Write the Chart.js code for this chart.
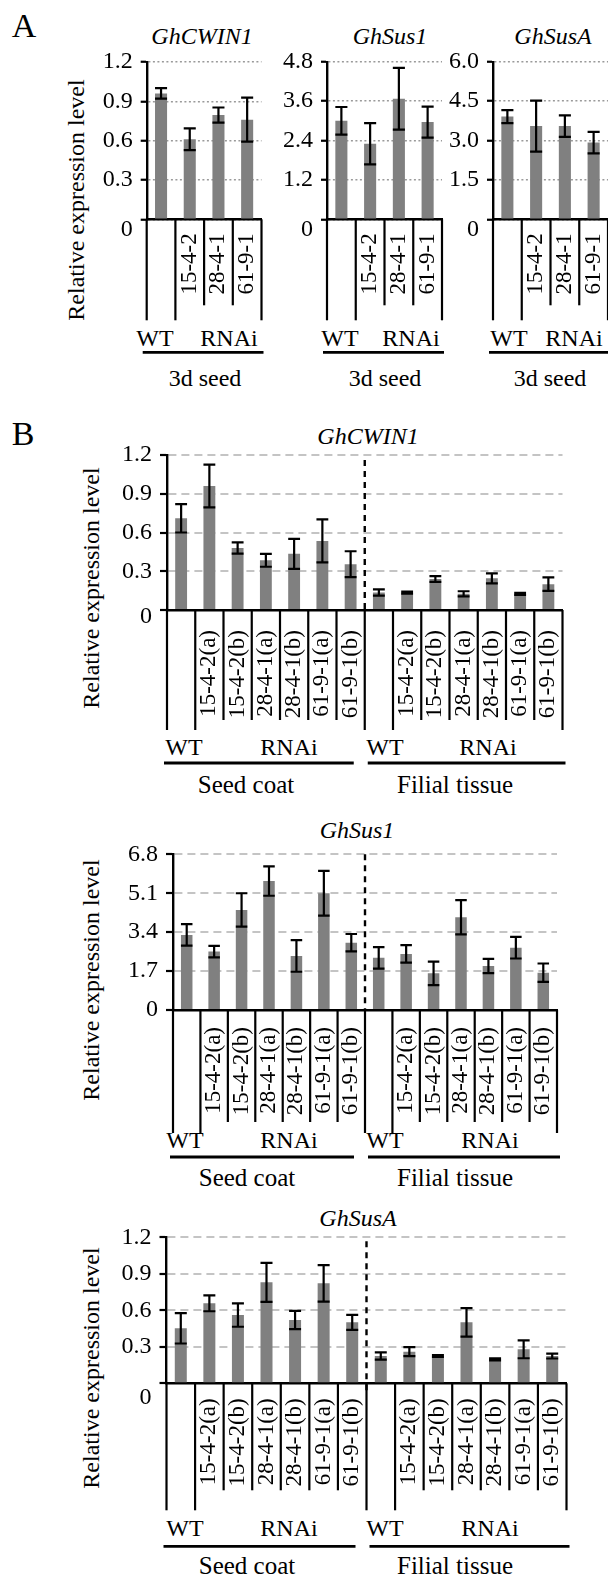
<!DOCTYPE html>
<html>
<head>
<meta charset="utf-8">
<script src="https://cdn.jsdelivr.net/npm/chart.js@4.4.1/dist/chart.umd.min.js"></script>
<style>
  body { margin: 0; width: 608px; height: 1576px; position: relative; background: #fff; overflow: hidden;
         font-family: 'Liberation Serif', 'DejaVu Serif', serif; color: #000; }
  canvas { position: absolute; left: 0; top: 0; }
  .t { position: absolute; white-space: nowrap; line-height: 1; font-size: 24px; transform: translate(-50%, -50%); }
  .it { font-style: italic; }
  .big { font-size: 34px; }
  .ty { transform: translate(-50%, -50%) rotate(-90deg); }
</style>
</head>
<body>
<div class="t big" style="left:24px;top:26px">A</div>
<div class="t big" style="left:23px;top:434px">B</div>

<!-- panel A -->
<div class="t ty" style="left:76px;top:200px">Relative expression level</div>
<div class="t it" style="left:202px;top:36px">GhCWIN1</div>
<div class="t it" style="left:390px;top:36px">GhSus1</div>
<div class="t it" style="left:553px;top:36px">GhSusA</div>
<div class="t" style="left:155px;top:338px">WT</div>
<div class="t" style="left:229px;top:338px">RNAi</div>
<div class="t" style="left:205px;top:378px">3d seed</div>
<div class="t" style="left:340px;top:338px">WT</div>
<div class="t" style="left:411px;top:338px">RNAi</div>
<div class="t" style="left:385px;top:378px">3d seed</div>
<div class="t" style="left:509px;top:338px">WT</div>
<div class="t" style="left:574px;top:338px">RNAi</div>
<div class="t" style="left:550px;top:378px">3d seed</div>

<!-- panel B, GhCWIN1 -->
<div class="t ty" style="left:91px;top:588px">Relative expression level</div>
<div class="t it" style="left:368px;top:436px">GhCWIN1</div>
<div class="t" style="left:184px;top:747px">WT</div>
<div class="t" style="left:289px;top:747px">RNAi</div>
<div class="t" style="left:385px;top:747px">WT</div>
<div class="t" style="left:488px;top:747px">RNAi</div>
<div class="t" style="left:246px;top:784px;font-size:25px">Seed coat</div>
<div class="t" style="left:455px;top:784px;font-size:25px">Filial tissue</div>

<!-- panel B, GhSus1 -->
<div class="t ty" style="left:91px;top:980px">Relative expression level</div>
<div class="t it" style="left:357px;top:830px">GhSus1</div>
<div class="t" style="left:185px;top:1140px">WT</div>
<div class="t" style="left:289px;top:1140px">RNAi</div>
<div class="t" style="left:385px;top:1140px">WT</div>
<div class="t" style="left:490px;top:1140px">RNAi</div>
<div class="t" style="left:247px;top:1177px;font-size:25px">Seed coat</div>
<div class="t" style="left:455px;top:1177px;font-size:25px">Filial tissue</div>

<!-- panel B, GhSusA -->
<div class="t ty" style="left:91px;top:1368px">Relative expression level</div>
<div class="t it" style="left:358px;top:1218px">GhSusA</div>
<div class="t" style="left:185px;top:1528px">WT</div>
<div class="t" style="left:289px;top:1528px">RNAi</div>
<div class="t" style="left:385px;top:1528px">WT</div>
<div class="t" style="left:490px;top:1528px">RNAi</div>
<div class="t" style="left:247px;top:1565px;font-size:25px">Seed coat</div>
<div class="t" style="left:455px;top:1565px;font-size:25px">Filial tissue</div>

<script>
// categories
const catsA = ['WT', '15-4-2', '28-4-1', '61-9-1'];
const catsB = ['WT', '15-4-2(a)', '15-4-2(b)', '28-4-1(a)', '28-4-1(b)', '61-9-1(a)', '61-9-1(b)',
               'WT', '15-4-2(a)', '15-4-2(b)', '28-4-1(a)', '28-4-1(b)', '61-9-1(a)', '61-9-1(b)'];

// panel A, 3d seed
const cwinA = [0.96, 0.61, 0.795, 0.76];
const cwinAErr = [0.04, 0.083, 0.058, 0.168];
const sus1A = [3.0, 2.3, 3.67, 2.96];
const sus1AErr = [0.42, 0.63, 0.94, 0.47];
const susAA = [3.91, 3.55, 3.55, 2.92];
const susAAErr = [0.25, 0.97, 0.41, 0.41];

// panel B, seed coat (7) + filial tissue (7)
const cwinB = [0.71, 0.96, 0.48, 0.385, 0.435, 0.535, 0.355, 0.135, 0.135, 0.24, 0.125, 0.245, 0.125, 0.2];
const cwinBErr = [0.11, 0.165, 0.043, 0.05, 0.116, 0.167, 0.1, 0.024, 0.008, 0.022, 0.02, 0.039, 0.008, 0.052];
const sus1B = [3.28, 2.55, 4.37, 5.63, 2.36, 5.1, 2.94, 2.28, 2.45, 1.6, 4.05, 1.92, 2.72, 1.63];
const sus1BErr = [0.47, 0.25, 0.73, 0.64, 0.69, 0.98, 0.38, 0.47, 0.38, 0.51, 0.75, 0.31, 0.47, 0.4];
const susAB = [0.452, 0.657, 0.561, 0.83, 0.52, 0.822, 0.501, 0.224, 0.26, 0.224, 0.501, 0.197, 0.279, 0.224];
const susABErr = [0.125, 0.065, 0.096, 0.16, 0.075, 0.15, 0.062, 0.03, 0.037, 0.008, 0.117, 0.008, 0.073, 0.02];

// y tick labels
const yTicksA1 = ['0', '0.3', '0.6', '0.9', '1.2'];
const yTicksA2 = ['0', '1.2', '2.4', '3.6', '4.8'];
const yTicksA3 = ['0', '1.5', '3.0', '4.5', '6.0'];
const yTicksB1 = ['0', '0.3', '0.6', '0.9', '1.2'];
const yTicksB2 = ['0', '1.7', '3.4', '5.1', '6.8'];
const yTicksB3 = ['0', '0.3', '0.6', '0.9', '1.2'];

const W = 608, H = 1576, YW = 60, XH = 150;
const serif = "'Liberation Serif', 'DejaVu Serif', serif";

// error bars, cell separators, group lines, dashed divider
const extras = {
  id: 'extras',
  afterDatasetsDraw(chart, args, o) {
    const ctx = chart.ctx, ys = chart.scales.y;
    const meta = chart.getDatasetMeta(0);
    ctx.save();
    ctx.strokeStyle = '#000';
    ctx.lineWidth = 2.2;
    o.errs.forEach((e, i) => {
      const bar = meta.data[i], v = o.vals[i];
      const cx = bar.x, hw = bar.width / 2;
      const y1 = ys.getPixelForValue(v + e), y2 = ys.getPixelForValue(v - e);
      ctx.beginPath();
      ctx.moveTo(cx, y1); ctx.lineTo(cx, y2);
      ctx.moveTo(cx - hw, y1); ctx.lineTo(cx + hw, y1);
      ctx.moveTo(cx - hw, y2); ctx.lineTo(cx + hw, y2);
      ctx.stroke();
    });
    ctx.restore();
  },
  afterDraw(chart, args, o) {
    const ctx = chart.ctx, xs = chart.scales.x, area = chart.chartArea;
    const n = o.vals.length;
    const cell = xs.getPixelForValue(1) - xs.getPixelForValue(0);
    const edge = k => xs.getPixelForValue(0) - cell / 2 + k * cell;
    const base = area.bottom;
    ctx.save();
    ctx.strokeStyle = '#000';
    ctx.lineWidth = 2.2;
    for (let k = 0; k <= n; k++) {
      const len = o.longIdx.includes(k) ? o.longLen : o.shortLen;
      ctx.beginPath();
      ctx.moveTo(edge(k), base);
      ctx.lineTo(edge(k), base + len);
      ctx.stroke();
    }
    ctx.lineWidth = 2.8;
    o.groups.forEach(g => {
      ctx.beginPath();
      ctx.moveTo(edge(g.a) + g.dl, base + o.groupY);
      ctx.lineTo(edge(g.b) + g.dr, base + o.groupY);
      ctx.stroke();
    });
    if (o.divider) {
      ctx.lineWidth = 2.4;
      ctx.setLineDash([6, 5]);
      ctx.beginPath();
      ctx.moveTo(edge(o.divider.k), area.top + o.divider.top);
      ctx.lineTo(edge(o.divider.k), base + o.divider.bottom);
      ctx.stroke();
    }
    ctx.restore();
  }
};

const styleA = { gridColor: '#9a9a9a', gridW: 1.5, dash: [2, 2.5], tickLen: 6 };
const styleB = { gridColor: '#c4c4c4', gridW: 2, dash: [8, 5], tickLen: 7 };

function drawChart(box, cats, vals, errs, yTicks, st, ex) {
  const cv = document.createElement('canvas');
  cv.width = W; cv.height = H;
  document.body.appendChild(cv);
  const nums = yTicks.map(Number);
  new Chart(cv, {
    type: 'bar',
    data: {
      labels: cats,
      datasets: [{ data: vals, backgroundColor: '#808080', barPercentage: 0.42, categoryPercentage: 1 }]
    },
    options: {
      responsive: false,
      animation: false,
      devicePixelRatio: 1,
      events: [],
      layout: { padding: { left: box.l - YW, right: W - box.r, top: box.t, bottom: H - box.b - XH } },
      plugins: {
        legend: { display: false },
        tooltip: { enabled: false },
        extras: Object.assign({ vals, errs }, ex)
      },
      scales: {
        x: {
          grid: { display: false, drawTicks: false },
          border: { color: '#000', width: 2.4 },
          ticks: {
            autoSkip: false, minRotation: 90, maxRotation: 90, padding: ex.pad,
            color: '#000', font: { family: serif, size: 23 },
            callback: (v, i) => cats[i] === 'WT' ? '' : cats[i]
          },
          afterFit: s => { s.height = XH; s.paddingLeft = 0; s.paddingRight = 0; }
        },
        y: {
          min: 0,
          max: nums[nums.length - 1],
          afterBuildTicks: s => { s.ticks = nums.map(v => ({ value: v })); },
          ticks: {
            autoSkip: false,
            // the "0" label sits a little below the axis line in the original
            callback: (v, i) => (i === 0 && ex.zeroDrop) ? ['', yTicks[i]] : yTicks[i],
            color: '#000',
            font: c => ({ family: serif, size: 24, lineHeight: (c.index === 0 && ex.zeroDrop) ? ex.zeroDrop * 2 + 'px' : 1.2 }),
            padding: 8
          },
          grid: { color: st.gridColor, lineWidth: st.gridW, tickColor: '#000', tickWidth: 2.2, tickLength: st.tickLen },
          border: { color: '#000', width: 2.4, dash: st.dash },
          afterFit: s => { s.width = YW; }
        }
      }
    },
    plugins: [extras]
  });
}

const exA = { pad: 14, zeroDrop: 10, longIdx: [0, 1, 4], longLen: 101, shortLen: 86, groupY: 133,
              groups: [{ a: 0, b: 4, dl: -4, dr: 2 }] };
const exB = (pad, zeroDrop, longLen, shortLen, groupY, divTop, divBottom) => ({
  pad, zeroDrop, longIdx: [0, 1, 7, 8, 14], longLen, shortLen, groupY,
  groups: [{ a: 0, b: 7, dl: -3, dr: -11 }, { a: 7, b: 14, dl: 3, dr: 3 }],
  divider: { k: 7, top: divTop, bottom: divBottom }
});

drawChart({ l: 146.7, r: 261.5, t: 62, b: 219.3 }, catsA, cwinA, cwinAErr, yTicksA1, styleA, exA);
drawChart({ l: 327, r: 442, t: 61.7, b: 219.3 }, catsA, sus1A, sus1AErr, yTicksA2, styleA, exA);
drawChart({ l: 493, r: 608, t: 61.7, b: 219.3 }, catsA, susAA, susAAErr, yTicksA3, styleA, exA);
drawChart({ l: 167, r: 562.5, t: 455, b: 610 }, catsB, cwinB, cwinBErr, yTicksB1, styleB, exB(20, 7, 120, 110, 153, 5, 0));
drawChart({ l: 173, r: 557, t: 854.3, b: 1010 }, catsB, sus1B, sus1BErr, yTicksB2, styleB, exB(17, 0, 123, 112, 147, 0, 0));
drawChart({ l: 166.5, r: 566.5, t: 1237.3, b: 1383.3 }, catsB, susAB, susABErr, yTicksB3, styleB, exB(15, 14, 127, 107, 163, 4, 9));
</script>
</body>
</html>
